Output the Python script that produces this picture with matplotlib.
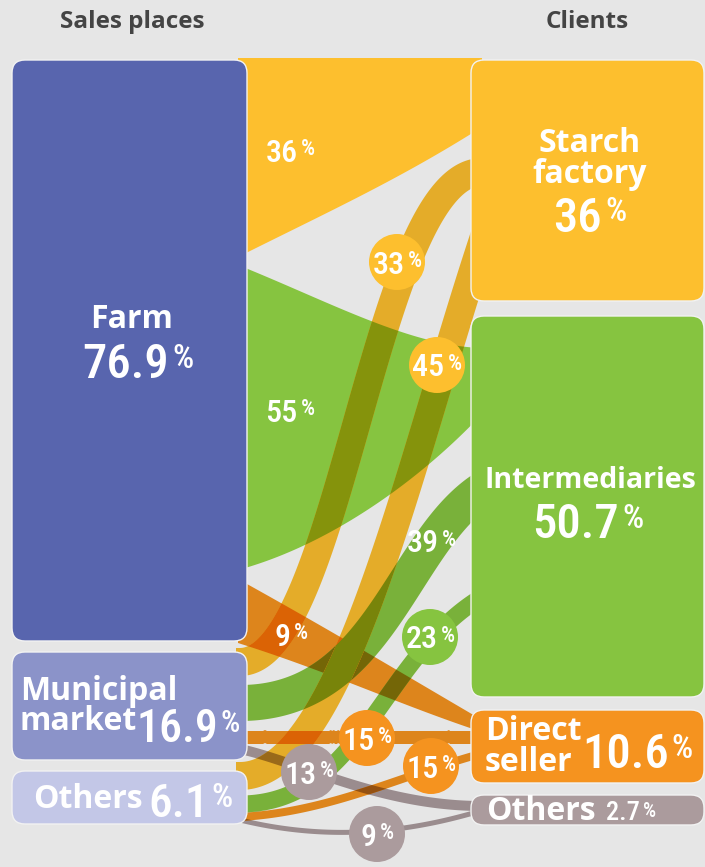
import os
import numpy as np
import matplotlib
matplotlib.use("Agg")
import matplotlib.pyplot as plt
from matplotlib.patches import Polygon, FancyBboxPatch, Circle
from matplotlib import font_manager as fm
import matplotlib.colors as mcolors

# ---------------- data ----------------
header_left = "Sales places"
header_right = "Clients"
source_names = ["Farm", "Municipal\nmarket", "Others"]
source_shares = ["76.9", "16.9", "6.1"]
client_names = ["Starch\nfactory", "Intermediaries", "Direct\nseller", "Others"]
client_shares = ["36", "50.7", "10.6", "2.7"]
flow_source = [0, 0, 0, 1, 1, 1, 1, 2, 2, 2, 2]
flow_client = [0, 1, 2, 0, 1, 2, 3, 0, 1, 2, 3]
flow_pct = [36, 55, 9, 33, 39, 15, 13, 45, 23, 15, 9]

# ---------------- style / layout ----------------
W, H = 705, 867
BG = "#e6e6e6"
source_colors = ["#5865ae", "#8b93c9", "#c3c7e7"]
client_colors = ["#fdbf2e", "#86c440", "#f5931f", "#ab9b9d"]
src_x = (12, 247)
src_y = [(60, 641), (652, 760), (771, 824)]
cli_x = (471, 704)
cli_y = [(60, 301), (316, 697), (710, 783), (795, 825)]

# geometry of each flow (same order as the data lists)
flow_geom = [
    dict(kind="region", upper=[(238, 58), (320, 58), (400, 58), (482, 58)],
         lower=[(238, 257), (330, 211), (400, 179), (482, 127)]),
    dict(kind="region", upper=[(238, 265), (330, 302), (410, 346), (482, 348)],
         lower=[(238, 570), (330, 545), (420, 480), (482, 414)]),
    dict(kind="region", upper=[(238, 579), (330, 630), (400, 672), (482, 720)],
         lower=[(238, 643), (330, 672), (400, 705), (482, 732)]),
    dict(kind="tube", ctrl=[(240, 662), (340, 662), (375, 172), (482, 172)], w=28),
    dict(kind="tube", ctrl=[(240, 703), (380, 703), (400, 545), (482, 490)], w=36),
    dict(kind="tube", ctrl=[(240, 737), (330, 737), (400, 737), (482, 737)], w=13),
    dict(kind="tube", ctrl=[(240, 749), (300, 762), (380, 806), (482, 806)], w=10),
    dict(kind="tube", ctrl=[(240, 776), (340, 776), (405, 480), (478, 255)], w=28),
    dict(kind="tube", ctrl=[(240, 804), (360, 804), (380, 660), (480, 598)], w=17),
    dict(kind="tube", ctrl=[(240, 817), (330, 812), (400, 776), (480, 754)], w=8),
    dict(kind="tube", ctrl=[(240, 820), (330, 842), (410, 832), (480, 811)], w=5),
]
# label placement for each flow: (x, y, bubble?)
flow_label = [
    (290, 150, False), (290, 410, False), (291, 634, False),
    (397, 262, True), (431, 541, False), (367, 738, True), (309, 772, True),
    (437, 365, True), (430, 637, True), (431, 766, True), (377, 834, True),
]
draw_order = [0, 1, 2, 10, 6, 9, 5, 8, 4, 7, 3]


def find_font(patterns):
    for pat in patterns:
        for f in fm.fontManager.ttflist:
            if pat.lower() in os.path.basename(f.fname).lower():
                return f.fname
    return None


num_file = find_font(["RobotoCondensed-Medium", "LiberationSansNarrow-Regular.",
                      "RobotoCondensed-Regular", "LiberationSansNarrow-Bold.",
                      "DejaVuSansCondensed.", "DejaVuSansCondensed-Bold."])
if num_file:
    NUM = fm.FontProperties(fname=num_file)
else:
    NUM = fm.FontProperties(family="DejaVu Sans")
LBL = dict(family=["Open Sans", "DejaVu Sans"], weight="bold")

fig = plt.figure(figsize=(W / 100, H / 100), dpi=100)
fig.patch.set_facecolor(BG)
ax = fig.add_axes([0, 0, 1, 1])
ax.set_xlim(0, W)
ax.set_ylim(H, 0)
ax.axis("off")
ax.set_facecolor(BG)


def bezier(P, n=160):
    P = np.asarray(P, float)
    t = np.linspace(0, 1, n)[:, None]
    pts = (1 - t) ** 3 * P[0] + 3 * (1 - t) ** 2 * t * P[1] + 3 * (1 - t) * t ** 2 * P[2] + t ** 3 * P[3]
    d = 3 * (1 - t) ** 2 * (P[1] - P[0]) + 6 * (1 - t) * t * (P[2] - P[1]) + 3 * t ** 2 * (P[3] - P[2])
    return pts, d


def tube_poly(P, w, ext0=4, ext1=25):
    pts, d = bezier(P)
    d = d / np.linalg.norm(d, axis=1, keepdims=True)
    pts = np.vstack([pts[0] - d[0] * ext0, pts, pts[-1] + d[-1] * ext1])
    d = np.vstack([d[0], d, d[-1]])
    nrm = np.column_stack([-d[:, 1], d[:, 0]])
    return np.vstack([pts + nrm * w / 2, (pts - nrm * w / 2)[::-1]])


def region_poly(up, lo):
    a, _ = bezier(up)
    b, _ = bezier(lo)
    return np.vstack([a, b[::-1]])


bgc = np.array(mcolors.to_rgb(BG))
drawn = []
for i in draw_order:
    g = flow_geom[i]
    base = np.array(mcolors.to_rgb(client_colors[flow_client[i]]))
    if g["kind"] == "region":
        poly = region_poly(g["upper"], g["lower"])
        mult = i == 2
    else:
        poly = tube_poly(g["ctrl"], g["w"])
        mult = True
    col = base * bgc if mult else base
    p = Polygon(poly, closed=True, fc=col, ec="none", zorder=1)
    ax.add_patch(p)
    if mult:
        for prev, pcol in drawn:
            q = Polygon(poly, closed=True, fc=np.clip(base * pcol, 0, 1), ec="none", zorder=1)
            ax.add_patch(q)
            q.set_clip_path(prev)
    drawn.append((p, col))

# nodes
for (y0, y1), c in zip(src_y, source_colors):
    ax.add_patch(FancyBboxPatch((src_x[0], y0), src_x[1] - src_x[0], y1 - y0,
                                boxstyle="round,pad=0,rounding_size=13",
                                fc=c, ec="#f2f2f2", lw=1.0, zorder=3))
for (y0, y1), c in zip(cli_y, client_colors):
    ax.add_patch(FancyBboxPatch((cli_x[0], y0), cli_x[1] - cli_x[0], y1 - y0,
                                boxstyle="round,pad=0,rounding_size=13",
                                fc=c, ec="#f2f2f2", lw=1.0, zorder=3))

renderer = fig.canvas.get_renderer()
PX = 100 / 72


def pct_label(x, y, num, s_num, s_pct, ha="center", gap=3, z=6):
    yb = y + 0.36 * s_num * PX
    t1 = ax.text(0, yb, num, fontproperties=NUM, fontsize=s_num, color="white",
                 va="baseline", ha="left", zorder=z)
    t2 = ax.text(0, yb - 0.71 * (s_num - s_pct) * PX, "%", fontproperties=NUM,
                 fontsize=s_pct, color="white", va="baseline", ha="left", zorder=z)
    w1 = t1.get_window_extent(renderer).width
    w2 = t2.get_window_extent(renderer).width
    tot = w1 + gap + w2
    if ha == "center":
        x0 = x - tot / 2
    elif ha == "right":
        x0 = x - tot
    else:
        x0 = x
    t1.set_x(x0)
    t2.set_x(x0 + w1 + gap)


# headers
ax.text(132, 28, header_left, color="#444444", fontsize=17.5, va="baseline", ha="center", **LBL)
ax.text(587, 28, header_right, color="#444444", fontsize=17.5, va="baseline", ha="center", **LBL)

FS = 23
BIG = 35
# source labels
ax.text(132, 328, source_names[0], color="white", fontsize=FS, ha="center", va="baseline", zorder=6, **LBL)
pct_label(138, 361, source_shares[0], BIG, 24)
mun = source_names[1].split("\n")
ax.text(20, 700, mun[0], color="white", fontsize=FS, ha="left", va="baseline", zorder=6, **LBL)
ax.text(20, 730, mun[1], color="white", fontsize=FS, ha="left", va="baseline", zorder=6, **LBL)
pct_label(240, 726, source_shares[1], 33, 22, ha="right", gap=2)
ax.text(33, 808, source_names[2], color="white", fontsize=FS, ha="left", va="baseline", zorder=6, **LBL)
pct_label(233, 800, source_shares[2], BIG - 1, 24, ha="right")

# client labels
st = client_names[0].split("\n")
ax.text(590, 152, st[0], color="white", fontsize=FS, ha="center", va="baseline", zorder=6, **LBL)
ax.text(590, 183, st[1], color="white", fontsize=FS, ha="center", va="baseline", zorder=6, **LBL)
pct_label(590, 214, client_shares[0], BIG, 24)
ax.text(590, 488, client_names[1], color="white", fontsize=20.5, ha="center", va="baseline", zorder=6, **LBL)
pct_label(588, 521, client_shares[1], BIG, 24)
ds = client_names[2].split("\n")
ax.text(485, 740, ds[0], color="white", fontsize=FS, ha="left", va="baseline", zorder=6, **LBL)
ax.text(485, 771, ds[1], color="white", fontsize=FS, ha="left", va="baseline", zorder=6, **LBL)
pct_label(693, 751, client_shares[2], BIG, 24, ha="right")
ax.text(486, 820, client_names[3], color="white", fontsize=FS, ha="left", va="baseline", zorder=6, **LBL)
pct_label(606, 811, client_shares[3], 19, 15, ha="left")

# flow labels and bubbles
for i, (x, y, bub) in enumerate(flow_label):
    if bub:
        ax.add_patch(Circle((x, y), 28, fc=client_colors[flow_client[i]], ec="none", zorder=5))
    pct_label(x, y, str(flow_pct[i]), 23, 16)

fig.savefig("out.png", dpi=100, facecolor=BG)
